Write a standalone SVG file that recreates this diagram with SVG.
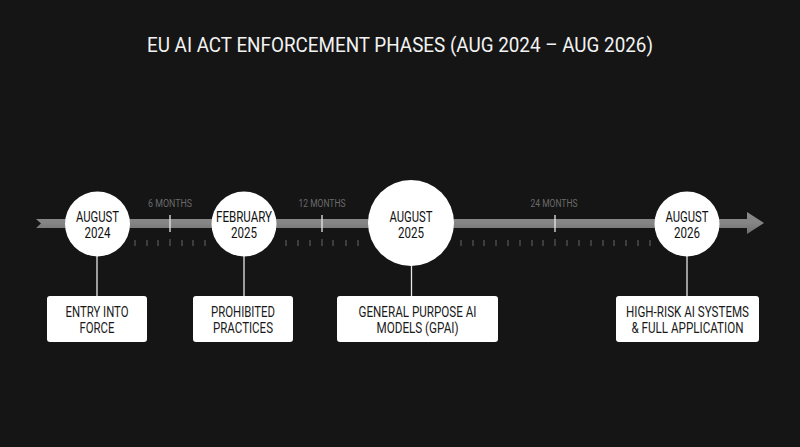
<svg xmlns="http://www.w3.org/2000/svg" width="800" height="447" viewBox="0 0 800 447">
<defs>
<linearGradient id="barg" x1="0" y1="0" x2="0" y2="1">
<stop offset="0" stop-color="#8a8a8a"/>
<stop offset="0.5" stop-color="#858585"/>
<stop offset="1" stop-color="#6e6e6e"/>
</linearGradient>
</defs>
<style>
text{font-family:Roboto,"Liberation Sans",sans-serif;text-anchor:middle}
.title{font-size:21px;fill:#f2f2f2}
.circ{fill:#ffffff}
.ct{font-size:14px;fill:#111111}
.box{fill:#ffffff}
.bt{font-size:14px;fill:#1a1a1a}
.tl{font-size:10px;fill:#6a6a6a}
.major{stroke:#e6e6e6;stroke-width:1.3}
.minor{stroke:#666666;stroke-width:1}
.conn{stroke:#e6e6e6;stroke-width:1.3}
</style>
<rect width="800" height="447" fill="#151515"/>
<text class="title" x="400" y="52" textLength="506" lengthAdjust="spacingAndGlyphs">EU AI ACT ENFORCEMENT PHASES (AUG 2024 – AUG 2026)</text>

<g id="axis">
<polygon points="36,219 747,219 747,212 764,223 747,234 747,228 36,228 41,223.5" fill="url(#barg)"/>
<line class="major" x1="170" y1="215" x2="170" y2="232"/>
<line class="major" x1="322" y1="215" x2="322" y2="232"/>
<line class="major" x1="555" y1="215" x2="555" y2="232"/>
<text class="tl" x="170" y="207" textLength="44" lengthAdjust="spacingAndGlyphs">6 MONTHS</text>
<text class="tl" x="322" y="207" textLength="47" lengthAdjust="spacingAndGlyphs">12 MONTHS</text>
<text class="tl" x="554" y="207" textLength="47" lengthAdjust="spacingAndGlyphs">24 MONTHS</text>
<g class="minor">
<line x1="135" y1="240" x2="135" y2="246"/><line x1="147" y1="240" x2="147" y2="246"/><line x1="158" y1="240" x2="158" y2="246"/><line x1="170" y1="239" x2="170" y2="246"/><line x1="182" y1="240" x2="182" y2="246"/><line x1="193" y1="240" x2="193" y2="246"/><line x1="205" y1="240" x2="205" y2="246"/>
<line x1="286" y1="240" x2="286" y2="246"/><line x1="298" y1="240" x2="298" y2="246"/><line x1="310" y1="240" x2="310" y2="246"/><line x1="322" y1="239" x2="322" y2="246"/><line x1="333" y1="240" x2="333" y2="246"/><line x1="346" y1="240" x2="346" y2="246"/><line x1="358" y1="240" x2="358" y2="246"/>
<line x1="461" y1="240" x2="461" y2="246"/><line x1="473" y1="240" x2="473" y2="246"/><line x1="484" y1="240" x2="484" y2="246"/><line x1="496" y1="240" x2="496" y2="246"/><line x1="508" y1="240" x2="508" y2="246"/><line x1="520" y1="240" x2="520" y2="246"/><line x1="532" y1="240" x2="532" y2="246"/><line x1="543" y1="240" x2="543" y2="246"/><line x1="555" y1="239" x2="555" y2="246"/><line x1="567" y1="240" x2="567" y2="246"/><line x1="579" y1="240" x2="579" y2="246"/><line x1="591" y1="240" x2="591" y2="246"/><line x1="603" y1="240" x2="603" y2="246"/><line x1="614" y1="240" x2="614" y2="246"/><line x1="626" y1="240" x2="626" y2="246"/><line x1="638" y1="240" x2="638" y2="246"/><line x1="650" y1="240" x2="650" y2="246"/>
</g>
</g>

<g id="connectors">
<line class="conn" x1="97" y1="256" x2="97" y2="296"/>
<line class="conn" x1="244" y1="256" x2="244" y2="296"/>
<line class="conn" x1="411.5" y1="266" x2="411.5" y2="296"/>
<line class="conn" x1="687" y1="256" x2="687" y2="296"/>
</g>

<g id="n-aug2024">
<circle class="circ" cx="97.5" cy="224" r="32.5"/>
<text class="ct" x="97.5" y="222" textLength="43" lengthAdjust="spacingAndGlyphs">AUGUST</text>
<text class="ct" x="97.5" y="238" textLength="26" lengthAdjust="spacingAndGlyphs">2024</text>
</g>
<g id="n-feb2025">
<circle class="circ" cx="244" cy="224" r="32.5"/>
<text class="ct" x="244" y="222" textLength="56" lengthAdjust="spacingAndGlyphs">FEBRUARY</text>
<text class="ct" x="244" y="238" textLength="26" lengthAdjust="spacingAndGlyphs">2025</text>
</g>
<g id="n-aug2025">
<circle class="circ" cx="411" cy="223" r="43"/>
<text class="ct" x="411" y="221.5" textLength="43" lengthAdjust="spacingAndGlyphs">AUGUST</text>
<text class="ct" x="411" y="237.5" textLength="26" lengthAdjust="spacingAndGlyphs">2025</text>
</g>
<g id="n-aug2026">
<circle class="circ" cx="687" cy="224" r="32.5"/>
<text class="ct" x="687" y="222" textLength="43" lengthAdjust="spacingAndGlyphs">AUGUST</text>
<text class="ct" x="687" y="238" textLength="26" lengthAdjust="spacingAndGlyphs">2026</text>
</g>

<g id="b-entry">
<rect class="box" x="47" y="296" width="100" height="46" rx="3"/>
<text class="bt" x="97" y="317" textLength="63" lengthAdjust="spacingAndGlyphs">ENTRY INTO</text>
<text class="bt" x="97" y="333" textLength="35" lengthAdjust="spacingAndGlyphs">FORCE</text>
</g>
<g id="b-prohibited">
<rect class="box" x="193" y="296" width="100" height="46" rx="3"/>
<text class="bt" x="243" y="317" textLength="64" lengthAdjust="spacingAndGlyphs">PROHIBITED</text>
<text class="bt" x="243" y="333" textLength="60" lengthAdjust="spacingAndGlyphs">PRACTICES</text>
</g>
<g id="b-gpai">
<rect class="box" x="337" y="296" width="161" height="46" rx="3"/>
<text class="bt" x="417.5" y="317" textLength="118" lengthAdjust="spacingAndGlyphs">GENERAL PURPOSE AI</text>
<text class="bt" x="417.5" y="333" textLength="82" lengthAdjust="spacingAndGlyphs">MODELS (GPAI)</text>
</g>
<g id="b-highrisk">
<rect class="box" x="616" y="296" width="143" height="46" rx="3"/>
<text class="bt" x="687.5" y="317" textLength="123" lengthAdjust="spacingAndGlyphs">HIGH-RISK AI SYSTEMS</text>
<text class="bt" x="687.5" y="333" textLength="112" lengthAdjust="spacingAndGlyphs">&amp; FULL APPLICATION</text>
</g>
</svg>
